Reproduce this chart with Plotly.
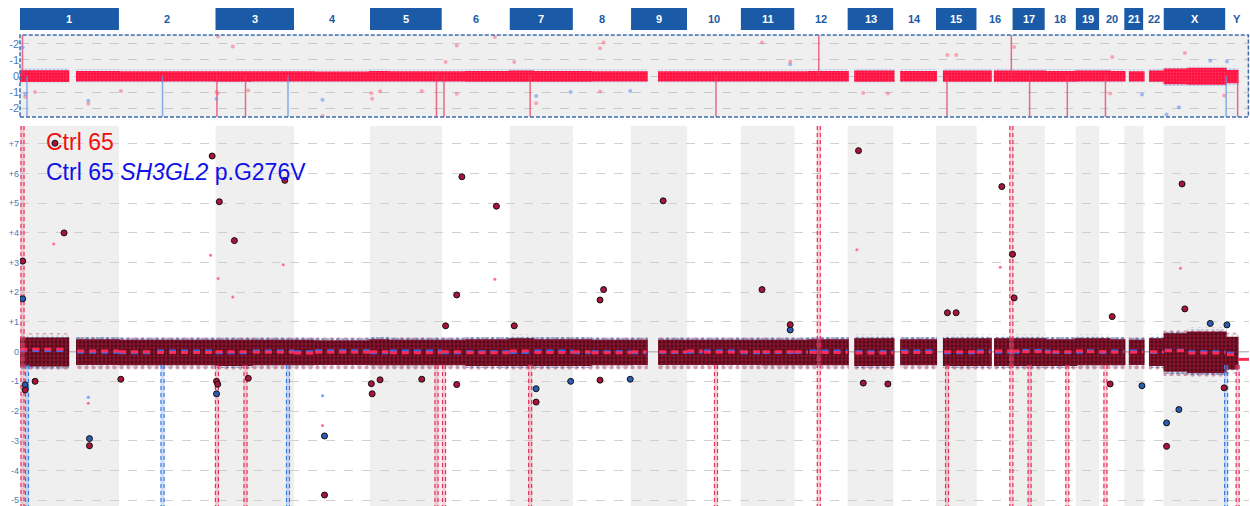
import plotly.graph_objects as go
import numpy as np

# ---------------- data ----------------
CHR_NAMES = ["1","2","3","4","5","6","7","8","9","10","11","12","13","14","15","16","17","18","19","20","21","22","X","Y"]
CHR_LEN = [249.25, 243.2, 198.0, 191.15, 180.9, 171.1, 159.1, 146.4, 141.2, 135.5, 135.0, 133.9,
           115.2, 107.3, 102.5, 90.4, 81.2, 78.1, 59.1, 63.0, 48.1, 51.3, 155.3, 59.4]

# probe-covered segments (chromosome, local start Mb, local end Mb), band envelope and segment means
SEG_CHR   = ["1","1","2","2","3","3","4","4","5","5","6","6","7","7","8","8","9","9","10","10","11","11","12","12",
             "13","14","15","16","16","17","17","18","18","19","19","20","20","21","22","X","X","Y"]
SEG_START = [0.8,144,0.1,96,0.1,94,0.1,53,0.1,50,0.2,62,0.1,62,0.2,47,0.2,71,0.1,42,0.2,55,0.2,38,
             19.5,20,20.5,0.1,46.5,0.1,25,0.1,19,0.3,28,0.1,30,14.5,17,2.7,62,4]
SEG_END   = [121,249,90,243,90,198,49,191,46,181,58,171,58,159,44,146,39,141,39,135.5,51,135,34,133.8,
             115,107,102.5,35,90.2,22,81,15,78,24,59,26,62.9,48,51,58,155.3,30]
SEG_TOP   = [0.48,0.42,0.4,0.4,0.4,0.4,0.4,0.38,0.42,0.4,0.4,0.42,0.45,0.42,0.42,0.4,0.4,0.4,0.4,0.4,0.4,0.4,0.4,0.42,
             0.45,0.42,0.45,0.45,0.45,0.45,0.45,0.42,0.42,0.45,0.45,0.45,0.42,0.4,0.45,0.62,0.68,0.5]
SEG_BOT   = [-0.5,-0.45,-0.46,-0.46,-0.48,-0.46,-0.46,-0.45,-0.46,-0.46,-0.46,-0.48,-0.48,-0.48,-0.48,-0.46,-0.45,-0.45,-0.45,-0.45,-0.45,-0.46,-0.46,-0.46,
             -0.48,-0.46,-0.48,-0.48,-0.48,-0.48,-0.48,-0.48,-0.48,-0.46,-0.46,-0.46,-0.46,-0.45,-0.48,-0.68,-0.72,-0.6]
SEG_RED   = [0.08,0.02,0.0,-0.03,0.0,-0.02,-0.05,-0.02,0.0,-0.04,0.0,-0.04,0.02,-0.03,0.0,-0.04,0.0,0.0,0.02,-0.02,0.0,0.0,0.0,-0.03,
             -0.05,-0.03,0.0,-0.02,0.02,0.02,0.0,-0.02,0.0,0.02,0.0,0.0,-0.02,-0.02,0.0,0.03,-0.05,-0.1]
SEG_BLUE  = [0.04,-0.02,-0.04,0.02,-0.04,0.02,0.0,0.03,-0.04,0.02,-0.04,0.0,-0.03,0.02,-0.04,0.0,-0.04,-0.03,-0.02,0.02,-0.04,-0.03,-0.03,0.02,
             0.0,0.02,-0.04,0.02,-0.02,-0.02,0.04,0.02,-0.03,-0.02,0.03,-0.03,0.02,0.02,-0.03,0.05,0.0,-0.05]

# big outlier probes (genome Mb, log2 ratio)
RED_X = [88,111,6.8,484,502,540,667,1113,1200,1620,1100,1470,1461,1869,2112,2473,2500,2504,2927,2336,2358,2751,2934,
         175,767,13,38,887,885,907,254,1300,1100,1012,1072,1245,1940,1461,2888,3033,2124,2186,2746,495,498,575]
RED_Y = [7.02,4.0,3.05,6.59,5.05,3.74,5.77,5.89,4.9,5.08,1.91,2.09,1.74,2.09,6.77,5.56,3.28,1.81,5.65,1.31,1.31,1.18,1.44,
         -3.17,-4.83,-1.29,-1.0,-1.42,-1.08,-0.95,-0.93,-1.7,-1.11,-0.93,0.87,0.87,0.91,-0.96,-3.19,-1.22,-1.06,-1.09,-1.09,-1.0,-1.1,-0.9]
BLUE_X = [6.8,175,767,13,495,1300,1537,1387,1940,2888,2919,2826,2998,3040]
BLUE_Y = [1.78,-2.93,-2.84,-1.12,-1.42,-1.25,-0.93,-1.0,0.73,-2.4,-1.95,-1.15,0.95,0.9]
# faint small probes
PINK_X = [85,480,499,536,663,1196,2108,2469,2923,172,762]
PINK_Y = [3.63,3.25,2.46,1.84,2.93,2.44,3.43,2.84,2.81,-1.74,-2.49]
LBLUE_X = [172,762]
LBLUE_Y = [-1.54,-1.49]

# called aberrations (genome Mb), colour series, whether the call spans the full height
CALL_X    = [6.3,17.6,359,496,568,675,1049,1068,1285,1753,2012,2335,2497,2543,2638,2734,3038,3067]
CALL_SER  = ["r","b","b","r","r","b","r","r","r","r","r","r","r","r","r","r","b","r"]
CALL_FULL = [True,False,False,False,False,False,False,False,False,False,True,False,True,False,False,False,False,False]

Y_TICKS = [-5,-4,-3,-2,-1,0,1,2,3,4,5,6,7]
Y_TICKTEXT = ["-5","-4","-3","-2","-1","0","+1","+2","+3","+4","+5","+6","+7"]
OV_TICKS = [-2,-1,0,1,2]
OV_TICKTEXT = ["-2","-1","0","-1","-2"]

# ---------------- derived ----------------
offsets = np.concatenate([[0], np.cumsum(CHR_LEN)[:-1]])
OFF = dict(zip(CHR_NAMES, offsets))
TOTAL = float(np.sum(CHR_LEN))
PX = 1229.0 / TOTAL  # pixels per Mb (plot width 1229 px)
MARK_PAD = 3.0       # half a probe marker, in Mb

YMAIN = [-5.2, 7.6]
YOV = [-2.56, 2.56]
MAIN_DOM = [0, 0.763]
OV_DOM = [0.7811, 0.9458]
HEAD_DOM = [0.9558, 1.0]

BLUE_BOX = "#1b5aa6"
TICKC = "#4a7ab8"

fig = go.Figure()

def band(pad, scale=1.0):
    xs, ys = [], []
    for c, s, e, t, b in zip(SEG_CHR, SEG_START, SEG_END, SEG_TOP, SEG_BOT):
        o = OFF[c]
        tt, bb = (t + pad) * scale, (b - pad) * scale
        x0, x1 = o + s - MARK_PAD, o + e + MARK_PAD
        xs += [x0, x1, x1, x0, x0, None]
        ys += [tt, tt, bb, bb, tt, None]
    return xs, ys

def add_band(pad, fill, pattern, yaxis="y", scale=1.0):
    x, y = band(pad, scale)
    fig.add_trace(go.Scatter(x=x, y=y, mode="lines", fill="toself", line=dict(width=0), fillcolor=fill,
                             fillpattern=pattern, hoverinfo="skip", showlegend=False, yaxis=yaxis))

# ---- main panel ----
fig.add_trace(go.Scatter(x=[0, TOTAL], y=[0, 0], mode="lines", line=dict(color="#bdbdbd", width=1.5),
                         hoverinfo="skip", showlegend=False))
# fuzzy outer halo of scattered probes
add_band(0.14, "rgba(0,0,0,0)", dict(shape=".", fgcolor="rgba(168,20,58,0.8)", size=7, solidity=0.3, fillmode="overlay"))
add_band(0.07, "rgba(0,0,0,0)", dict(shape=".", fgcolor="#2a5db0", size=5, solidity=0.45, fillmode="overlay"))
add_band(0.0, "#4a0a18", dict(shape=".", fgcolor="#d01e44", bgcolor="#3a0712", size=4, solidity=0.7))

# segment mean lines
for ser, vals, col in [("b", SEG_BLUE, "#2f6cf0"), ("r", SEG_RED, "#ff2a55")]:
    xs, ys = [], []
    for c, s, e, v in zip(SEG_CHR, SEG_START, SEG_END, vals):
        o = OFF[c]
        xs += [o + s, o + e, None]
        ys += [v, v, None]
    fig.add_trace(go.Scatter(x=xs, y=ys, mode="lines", line=dict(color=col, width=3, dash="7px,5px"),
                             hoverinfo="skip", showlegend=False))
fig.add_trace(go.Scatter(x=[OFF["Y"] + 32, OFF["Y"] + CHR_LEN[-1]], y=[-0.26, -0.26], mode="lines",
                         line=dict(color="#ff2a55", width=3), hoverinfo="skip", showlegend=False))

# called aberration lines
dx = 1.5 / PX
for x, ser, full in zip(CALL_X, CALL_SER, CALL_FULL):
    col = "#e8315f" if ser == "r" else "#3b7be0"
    pale = "rgba(240,120,150,0.35)" if ser == "r" else "rgba(110,160,240,0.35)"
    y0 = YMAIN[1] if full else -0.45
    fig.add_trace(go.Scatter(x=[x, x], y=[y0, YMAIN[0]], mode="lines", line=dict(color=pale, width=4),
                             hoverinfo="skip", showlegend=False))
    for off in (-dx, dx):
        fig.add_trace(go.Scatter(x=[x + off, x + off], y=[y0, YMAIN[0]], mode="lines",
                                 line=dict(color=col, width=1.2, dash="4px,3px"),
                                 hoverinfo="skip", showlegend=False))

# outliers
fig.add_trace(go.Scatter(x=PINK_X, y=PINK_Y, mode="markers", marker=dict(size=3, color="#ff7090"),
                         hoverinfo="skip", showlegend=False))
fig.add_trace(go.Scatter(x=LBLUE_X, y=LBLUE_Y, mode="markers", marker=dict(size=3, color="#6f9fff"),
                         hoverinfo="skip", showlegend=False))
fig.add_trace(go.Scatter(x=BLUE_X, y=BLUE_Y, mode="markers",
                         marker=dict(size=6, color="#2a5db0", line=dict(color="#101010", width=1)),
                         hoverinfo="skip", showlegend=False))
fig.add_trace(go.Scatter(x=RED_X, y=RED_Y, mode="markers",
                         marker=dict(size=6, color="#a8143a", line=dict(color="#101010", width=1)),
                         hoverinfo="skip", showlegend=False))

# ---- overview panel ----
add_band(0.1, "rgba(0,0,0,0)", dict(shape=".", fgcolor="rgba(90,140,235,0.8)", size=4, solidity=0.5, fillmode="overlay"),
         yaxis="y2", scale=0.8)
add_band(0.0, "#ff1f4b", dict(shape=".", fgcolor="#ff5a7a", bgcolor="#ff1040", size=3, solidity=0.3),
         yaxis="y2", scale=0.75)
for x, ser, full in zip(CALL_X, CALL_SER, CALL_FULL):
    col = "rgba(232,60,100,0.75)" if ser == "r" else "rgba(100,150,230,0.75)"
    y1 = YOV[1] if full else YOV[0]
    fig.add_trace(go.Scatter(x=[x, x], y=[0, y1], mode="lines", line=dict(color=col, width=1.5),
                             hoverinfo="skip", showlegend=False, yaxis="y2"))
fig.add_trace(go.Scatter(x=BLUE_X + LBLUE_X, y=BLUE_Y + LBLUE_Y, mode="markers",
                         marker=dict(size=4, color="rgba(100,150,240,0.6)"), hoverinfo="skip",
                         showlegend=False, yaxis="y2"))
fig.add_trace(go.Scatter(x=RED_X + PINK_X, y=RED_Y + PINK_Y, mode="markers",
                         marker=dict(size=4, color="rgba(255,90,120,0.5)"), hoverinfo="skip",
                         showlegend=False, yaxis="y2"))

# ---- shapes & annotations ----
shapes, annots = [], []
for i, (name, L, o) in enumerate(zip(CHR_NAMES, CHR_LEN, offsets)):
    odd = (i % 2 == 0)
    if odd:
        shapes.append(dict(type="rect", xref="x", yref="y", x0=o, x1=o + L, y0=YMAIN[0], y1=YMAIN[1],
                           fillcolor="#efefef", line=dict(width=0), layer="below"))
    shapes.append(dict(type="rect", xref="x", yref="paper", x0=o, x1=o + L, y0=HEAD_DOM[0], y1=HEAD_DOM[1],
                       fillcolor=BLUE_BOX if odd else "white", line=dict(width=0), layer="below"))
    annots.append(dict(x=o + L / 2, y=(HEAD_DOM[0] + HEAD_DOM[1]) / 2, xref="x", yref="paper", text="<b>%s</b>" % name,
                       showarrow=False, yanchor="middle",
                       font=dict(size=11, color="white" if odd else BLUE_BOX, family="Liberation Sans, Arial")))
shapes.append(dict(type="rect", xref="paper", yref="paper", x0=0, x1=1, y0=OV_DOM[0], y1=OV_DOM[1],
                   fillcolor="#efefef", line=dict(width=0), layer="below"))
shapes.append(dict(type="rect", xref="paper", yref="paper", x0=0, x1=0.9995, y0=OV_DOM[0], y1=OV_DOM[1],
                   fillcolor="rgba(0,0,0,0)", line=dict(color="#3d6db3", width=1.5, dash="4px,2px"), layer="above"))

px2paper = lambda px: (px - 20) / 1229.0
annots.append(dict(x=px2paper(44), y=(506 - 142) / 498, xref="paper", yref="paper", xanchor="left", yanchor="middle",
                   text="Ctrl 65", showarrow=False, font=dict(size=23, color="#f01010", family="Liberation Sans, Arial")))
annots.append(dict(x=px2paper(44), y=(506 - 172) / 498, xref="paper", yref="paper", xanchor="left", yanchor="middle",
                   text="Ctrl 65 <i>SH3GL2</i> p.G276V", showarrow=False,
                   font=dict(size=23, color="#1010e8", family="Liberation Sans, Arial")))

fig.update_layout(
    width=1250, height=506, margin=dict(l=20, r=1, t=8, b=0, autoexpand=False),
    paper_bgcolor="white", plot_bgcolor="rgba(0,0,0,0)", showlegend=False,
    shapes=shapes, annotations=annots,
    xaxis=dict(range=[0, TOTAL], showgrid=False, zeroline=False, showticklabels=False, showline=False,
               ticks="", fixedrange=True, automargin=False),
    yaxis=dict(domain=MAIN_DOM, range=YMAIN, tickvals=Y_TICKS, ticktext=Y_TICKTEXT, showgrid=True,
               gridcolor="#d0d0d0", griddash="dash", gridwidth=1, zeroline=False, showline=False,
               tickfont=dict(size=9, color=TICKC, family="Liberation Sans, Arial"), ticks="", ticklen=0,
               fixedrange=True, automargin=False),
    yaxis2=dict(domain=OV_DOM, range=YOV, anchor="x", tickvals=OV_TICKS, ticktext=OV_TICKTEXT, showgrid=True,
                gridcolor="#c8c8c8", griddash="dash", zeroline=False, showline=False,
                tickfont=dict(size=11, color=TICKC, family="Liberation Sans, Arial"), ticks="", fixedrange=True,
                automargin=False),
)

fig.write_html("out.html", config={"displayModeBar": False},
               post_script="document.body.style.margin='0';document.body.style.overflow='hidden';")
